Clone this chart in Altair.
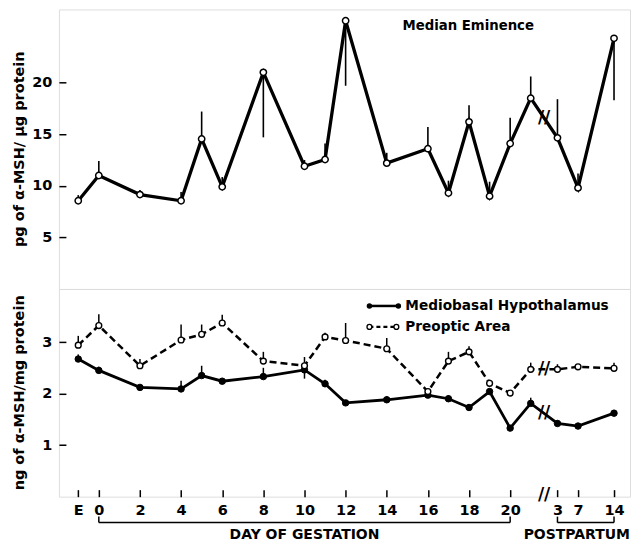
import altair as alt
import pandas as pd

# ---------------- data ----------------
phase = ["E"] + ["G"] * 16 + ["P"] * 3
day = [0, 0, 2, 4, 5, 6, 8, 10, 11, 12, 14, 16, 17, 18, 19, 20, 21, 3, 7, 14]

me_mean = [8.55, 11.0, 9.15, 8.55, 14.55, 9.9, 21.0, 11.9, 12.55, 26.0,
           12.2, 13.6, 9.3, 16.2, 9.0, 14.1, 18.5, 14.65, 9.8, 24.3]
me_err = [9.1, 12.4, 9.6, 9.4, 17.2, 10.85, 14.7, 12.5, 14.1, 19.7,
          13.2, 15.7, 10.5, 17.8, 10.4, 16.6, 20.6, 18.4, 11.2, 18.3]

mbh_mean = [2.67, 2.45, 2.12, 2.09, 2.35, 2.24, 2.33, 2.46, 2.19, 1.82,
            1.88, 1.97, 1.90, 1.73, 2.04, 1.33, 1.81, 1.42, 1.37, 1.62]
mbh_err = [2.76, 2.52, 2.17, 2.25, 2.54, 2.29, 2.50, 2.29, 2.27, 1.86,
           1.95, 2.05, 1.97, 1.79, 2.10, 1.38, 1.92, 1.48, 1.41, 1.68]

poa_mean = [2.94, 3.32, 2.54, 3.04, 3.15, 3.37, 2.63, 2.54, 3.10, 3.03,
            2.87, 2.04, 2.63, 2.81, 2.20, 2.01, 2.47, 2.47, 2.52, 2.49]
poa_err = [3.12, 3.54, 2.67, 3.34, 3.34, 3.53, 2.81, 2.71, 3.18, 3.37,
           3.08, 2.10, 2.81, 2.92, 2.27, 2.05, 2.60, 2.57, 2.56, 2.60]

tick_phase = ["E"] + ["G"] * 11 + ["P"] * 3
tick_day = [0, 0, 2, 4, 6, 8, 10, 12, 14, 16, 18, 20, 3, 7, 14]
tick_text = ["E", "0", "2", "4", "6", "8", "10", "12", "14", "16", "18", "20", "3", "7", "14"]

bracket_labels = ["DAY OF GESTATION", "POSTPARTUM"]
bracket_phase = ["G", "P"]
bracket_start = [0, 3]
bracket_end = [20, 14]

legend_labels = ["Mediobasal Hypothalamus", "Preoptic Area"]
panel_title = "Median Eminence"
y_titles = ["pg of α-MSH/ μg protein", "ng of α-MSH/mg protein"]

top_ticks = [5, 10, 15, 20]
bottom_ticks = [1, 2, 3]

# ---------------- broken-axis mapping ----------------
E_POS = -1.0
PP_START = 22.3
PP_STEP = 0.25


def to_pos(ph, d):
    if ph == "E":
        return E_POS
    if ph == "P":
        return PP_START + (d - 3) * PP_STEP
    return float(d)


pos = [to_pos(p, d) for p, d in zip(phase, day)]
tick_pos = [to_pos(p, d) for p, d in zip(tick_phase, tick_day)]

df = pd.DataFrame({
    "pos": pos,
    "me": me_mean, "me_err": me_err,
    "mbh": mbh_mean, "mbh_err": mbh_err,
    "poa": poa_mean, "poa_err": poa_err,
})

# break marks between last gestation point and first postpartum point
i_last = phase.index("P") - 1
i_pp = phase.index("P")
mid_pos = (pos[i_last] + pos[i_pp]) / 2
brk_top = pd.DataFrame({"pos": [mid_pos], "v": [(me_mean[i_last] + me_mean[i_pp]) / 2]})
brk_bot = pd.DataFrame({"pos": [mid_pos, mid_pos],
                        "v": [(mbh_mean[i_last] + mbh_mean[i_pp]) / 2,
                              (poa_mean[i_last] + poa_mean[i_pp]) / 2]})
brk_axis = pd.DataFrame({"pos": [mid_pos]})

br_df = pd.DataFrame({
    "label": bracket_labels,
    "phase": bracket_phase,
    "pos": [to_pos(p, d) for p, d in zip(bracket_phase, bracket_start)],
    "pos_end": [to_pos(p, d) for p, d in zip(bracket_phase, bracket_end)],
})
br_df["mid"] = (br_df["pos"] + br_df["pos_end"]) / 2

# ---------------- layout / style ----------------
W = 572
H1 = 280
H2 = 208
FONT = "DejaVu Sans"
PX_PER_DAY = 20.6
X_MIN = -1.94

xscale = alt.Scale(domain=[X_MIN, X_MIN + W / PX_PER_DAY], nice=False, zero=False)

label_expr = "".join(
    f"abs(datum.value - ({p})) < 0.01 ? '{t}' : " for p, t in zip(tick_pos, tick_text)
) + "''"

common_axis = dict(title=None, offset=-7, domain=False, grid=False, tickSize=7, tickWidth=1.5,
                   tickColor="black", labelFont=FONT, labelFontSize=14.5,
                   labelFontWeight="bold", labelColor="black")
top_axis = alt.Axis(values=top_ticks, labelPadding=7, **common_axis)
bot_axis = alt.Axis(values=bottom_ticks, labelPadding=7, **common_axis)
x_axis = alt.Axis(values=tick_pos, labelExpr=label_expr, labelPadding=7,
                  labelOverlap=False, labelFlush=False, **common_axis)

top_yscale = alt.Scale(domain=[0, 27.1], nice=False)
bot_yscale = alt.Scale(domain=[0, 4.03], nice=False)

Xt = alt.X("pos:Q", scale=xscale, axis=None)
Xb = alt.X("pos:Q", scale=xscale, axis=x_axis)


def Yt(f):
    return alt.Y(f"{f}:Q", scale=top_yscale, axis=top_axis)


def Yb(f):
    return alt.Y(f"{f}:Q", scale=bot_yscale, axis=bot_axis)


one = pd.DataFrame({"k": [0]})
TXT = dict(font=FONT, fontWeight="bold", color="black")

# ---------------- top panel ----------------
base = alt.Chart(df)
t_err = base.mark_rule(color="black", strokeWidth=1.6).encode(x=Xt, y=Yt("me"), y2="me_err")
t_line = base.mark_line(color="black", strokeWidth=3.3).encode(x=Xt, y=Yt("me"))
t_pts = base.mark_point(shape="circle", filled=True, fill="white", stroke="black",
                        strokeWidth=1.5, size=40, opacity=1).encode(x=Xt, y=Yt("me"))
t_brk = alt.Chart(brk_top).mark_text(text="//", fontSize=17, **TXT).encode(x=Xt, y=Yt("v"))
t_title = alt.Chart(one).mark_text(text=panel_title, fontSize=13.3, align="center",
                                   baseline="middle", **TXT).encode(
    x=alt.value(410), y=alt.value(17))
t_ytitle = alt.Chart(one).mark_text(text=y_titles[0], fontSize=14.5, angle=270, align="center",
                                    baseline="middle", **TXT).encode(
    x=alt.value(-39), y=alt.value(H1 / 2))

top = alt.layer(t_err, t_line, t_pts, t_brk, t_title, t_ytitle).properties(width=W, height=H1)

# ---------------- bottom panel ----------------
b_err1 = base.mark_rule(color="black", strokeWidth=1.5).encode(x=Xb, y=Yb("mbh"), y2="mbh_err")
b_err2 = base.mark_rule(color="black", strokeWidth=1.5).encode(x=Xb, y=Yb("poa"), y2="poa_err")
b_line1 = base.mark_line(color="black", strokeWidth=2.8).encode(x=Xb, y=Yb("mbh"))
b_line2 = base.mark_line(color="black", strokeWidth=2.5, strokeDash=[7, 4]).encode(x=Xb, y=Yb("poa"))
b_pts1 = base.mark_point(shape="circle", filled=True, fill="black", stroke="black",
                         strokeWidth=1, size=42, opacity=1).encode(x=Xb, y=Yb("mbh"))
b_pts2 = base.mark_point(shape="circle", filled=True, fill="white", stroke="black",
                         strokeWidth=1.4, size=34, opacity=1).encode(x=Xb, y=Yb("poa"))
b_brk = alt.Chart(brk_bot).mark_text(text="//", fontSize=17, **TXT).encode(x=Xb, y=Yb("v"))
b_axbrk = alt.Chart(brk_axis).mark_text(text="//", fontSize=17, **TXT).encode(
    x=Xb, y=alt.value(H2 - 2))

BR_Y = H2 + 26
br_line = alt.Chart(br_df).mark_rule(color="black", strokeWidth=1.5).encode(
    x=Xb, x2="pos_end", y=alt.value(BR_Y))
br_l = alt.Chart(br_df).mark_rule(color="black", strokeWidth=1.5).encode(
    x=Xb, y=alt.value(BR_Y - 6), y2=alt.value(BR_Y))
br_r = alt.Chart(br_df).mark_rule(color="black", strokeWidth=1.5).encode(
    x=alt.X("pos_end:Q", scale=xscale, axis=x_axis), y=alt.value(BR_Y - 6), y2=alt.value(BR_Y))
br_txt_g = alt.Chart(br_df[br_df["phase"] == "G"]).mark_text(
    fontSize=14, align="center", baseline="middle", **TXT).encode(
    x=alt.X("mid:Q", scale=xscale, axis=x_axis), y=alt.value(H2 + 38), text="label:N")
br_txt_p = alt.Chart(br_df[br_df["phase"] == "P"]).mark_text(
    fontSize=14, align="right", baseline="middle", **TXT).encode(
    x=alt.value(W), y=alt.value(H2 + 38), text="label:N")

# legend (drawn by hand, like the original)
LX1, LX2, LTX = 311, 340, 347
LY1, LY2 = 17, 38
lg1_line = alt.Chart(one).mark_rule(color="black", strokeWidth=2.5).encode(
    x=alt.value(LX1), x2=alt.value(LX2), y=alt.value(LY1))
lg1_pts_a = alt.Chart(one).mark_point(shape="circle", filled=True, fill="black", size=30,
                                      opacity=1).encode(x=alt.value(LX1), y=alt.value(LY1))
lg1_pts_b = alt.Chart(one).mark_point(shape="circle", filled=True, fill="black", size=30,
                                      opacity=1).encode(x=alt.value(LX2), y=alt.value(LY1))
lg1_txt = alt.Chart(one).mark_text(text=legend_labels[0], fontSize=13.7, align="left",
                                   baseline="middle", **TXT).encode(
    x=alt.value(LTX), y=alt.value(LY1))
lg2_line = alt.Chart(one).mark_rule(color="black", strokeWidth=2.2, strokeDash=[4, 3]).encode(
    x=alt.value(LX1), x2=alt.value(LX2 - 2), y=alt.value(LY2))
lg2_pts_a = alt.Chart(one).mark_point(shape="circle", filled=True, fill="white", stroke="black",
                                      strokeWidth=1.3, size=24, opacity=1).encode(
    x=alt.value(LX1), y=alt.value(LY2))
lg2_pts_b = alt.Chart(one).mark_point(shape="circle", filled=True, fill="white", stroke="black",
                                      strokeWidth=1.3, size=24, opacity=1).encode(
    x=alt.value(LX2 - 2), y=alt.value(LY2))
lg2_txt = alt.Chart(one).mark_text(text=legend_labels[1], fontSize=13.7, align="left",
                                   baseline="middle", **TXT).encode(
    x=alt.value(LTX), y=alt.value(LY2))

b_ytitle = alt.Chart(one).mark_text(text=y_titles[1], fontSize=14.5, angle=270, align="center",
                                    baseline="middle", **TXT).encode(
    x=alt.value(-39), y=alt.value(H2 / 2))

bottom = alt.layer(
    b_err1, b_err2, b_line1, b_line2, b_pts1, b_pts2, b_brk, b_axbrk,
    br_line, br_l, br_r, br_txt_g, br_txt_p,
    lg1_line, lg1_pts_a, lg1_pts_b, lg1_txt, lg2_line, lg2_pts_a, lg2_pts_b, lg2_txt,
    b_ytitle,
).properties(width=W, height=H2)

chart = alt.vconcat(top, bottom, spacing=0, bounds="flush").properties(
    padding={"left": 3, "top": 0, "right": 0, "bottom": 0}
).configure_view(stroke="black", strokeWidth=2).configure(background="white")

chart.save("out.html", embed_options={"renderer": "svg", "actions": False})
